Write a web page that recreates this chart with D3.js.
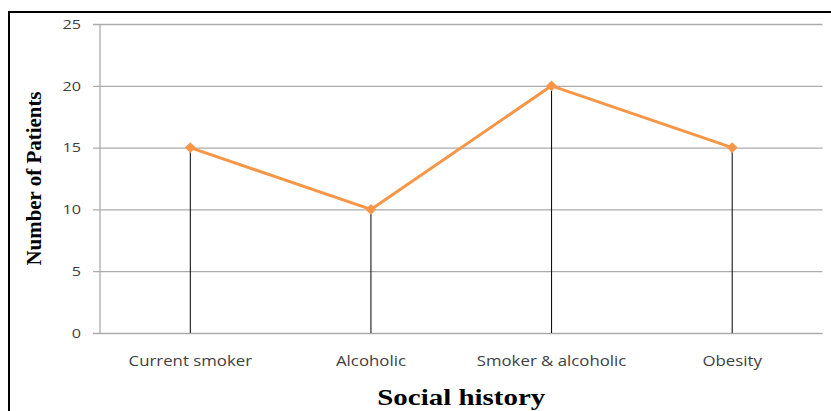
<!DOCTYPE html>
<html>
<head>
<meta charset="utf-8">
<script src="https://cdn.jsdelivr.net/npm/d3@7"></script>
<style>
  html, body { margin: 0; padding: 0; background: #fff; }
  svg { display: block; }
</style>
</head>
<body>
<svg id="chart" width="831" height="411"></svg>
<script>
// Social history of patients
const categories = ["Current smoker", "Alcoholic", "Smoker & alcoholic", "Obesity"];
const patients = [15, 10, 20, 15];
const yTicks = [0, 5, 10, 15, 20, 25];

const svg = d3.select("#chart");
const W = 831, H = 411;
const plot = { left: 100, right: 822.5, top: 24, bottom: 333 };
const labelFont = "'Open Sans', sans-serif";
const labelWiden = 1.2;   // wide label face

// widen a label horizontally about its anchor
function widen(sel) {
  sel.each(function () {
    const len = this.getComputedTextLength();
    d3.select(this)
      .attr("textLength", len * labelWiden)
      .attr("lengthAdjust", "spacingAndGlyphs");
  });
}

// outer frame (only top and left edges fall inside the canvas)
svg.append("path")
  .attr("d", `M9,${H + 5}V12H${W + 5}`)
  .attr("fill", "none")
  .attr("stroke", "#000")
  .attr("stroke-width", 2);

const x = d3.scaleBand().domain(categories).range([plot.left, plot.right]);
const y = d3.scaleLinear().domain([0, 25]).range([plot.bottom, plot.top]);

// horizontal gridlines with short ticks to the left
const yAxis = d3.axisLeft(y)
  .tickValues(yTicks)
  .tickSize(-(plot.right - plot.left))
  .tickPadding(12)
  .tickSizeOuter(0);

const gy = svg.append("g")
  .attr("transform", `translate(${plot.left},0)`)
  .call(yAxis);
gy.select(".domain").remove();
gy.selectAll(".tick line")
  .attr("x1", -7)
  .attr("stroke", "#ababab")
  .attr("stroke-width", 1.3);
gy.selectAll(".tick text")
  .attr("x", -19)
  .attr("font-family", labelFont)
  .attr("font-size", 13.5)
  .attr("fill", "#404040")
  .call(widen);

// vertical axis line
svg.append("line")
  .attr("x1", plot.left).attr("x2", plot.left)
  .attr("y1", plot.top).attr("y2", plot.bottom)
  .attr("stroke", "#ababab")
  .attr("stroke-width", 1.3);

// category labels
const xAxis = d3.axisBottom(x).tickSize(0).tickPadding(0);
const gx = svg.append("g")
  .attr("transform", `translate(0,${plot.bottom})`)
  .call(xAxis);
gx.select(".domain").remove();
gx.selectAll(".tick text")
  .attr("y", 33)
  .attr("dy", 0)
  .attr("font-family", labelFont)
  .attr("font-size", 14)
  .attr("fill", "#404040")
  .call(widen);

const cx = d => x(d) + x.bandwidth() / 2;

// drop lines from each point down to the baseline
svg.append("g")
  .selectAll("line")
  .data(categories)
  .join("line")
  .attr("x1", d => cx(d)).attr("x2", d => cx(d))
  .attr("y1", (d, i) => y(patients[i]))
  .attr("y2", y(0))
  .attr("stroke", "#000")
  .attr("stroke-width", 1);

// series line
const line = d3.line()
  .x((d, i) => cx(categories[i]))
  .y(d => y(d));

svg.append("path")
  .datum(patients)
  .attr("d", line)
  .attr("fill", "none")
  .attr("stroke", "#f79646")
  .attr("stroke-width", 3)
  .attr("stroke-linejoin", "round");

// diamond markers
const diamond = d3.symbol().type(d3.symbolDiamond2).size(75);
svg.append("g")
  .selectAll("path")
  .data(patients)
  .join("path")
  .attr("d", diamond)
  .attr("transform", (d, i) => `translate(${cx(categories[i])},${y(d)})`)
  .attr("fill", "#f79646");

// axis titles
svg.append("text")
  .attr("x", (plot.left + plot.right) / 2)
  .attr("y", 405)
  .attr("text-anchor", "middle")
  .attr("font-family", "'Liberation Serif', serif")
  .attr("font-weight", "bold")
  .attr("font-size", 23)
  .attr("fill", "#000")
  .attr("textLength", 168)
  .attr("lengthAdjust", "spacingAndGlyphs")
  .text("Social history");

svg.append("text")
  .attr("transform", `translate(41,${(plot.top + plot.bottom) / 2}) rotate(-90)`)
  .attr("text-anchor", "middle")
  .attr("font-family", "'Liberation Serif', serif")
  .attr("font-weight", "bold")
  .attr("font-size", 21)
  .attr("fill", "#000")
  .attr("textLength", 174)
  .attr("lengthAdjust", "spacingAndGlyphs")
  .text("Number of Patients");
</script>
</body>
</html>
